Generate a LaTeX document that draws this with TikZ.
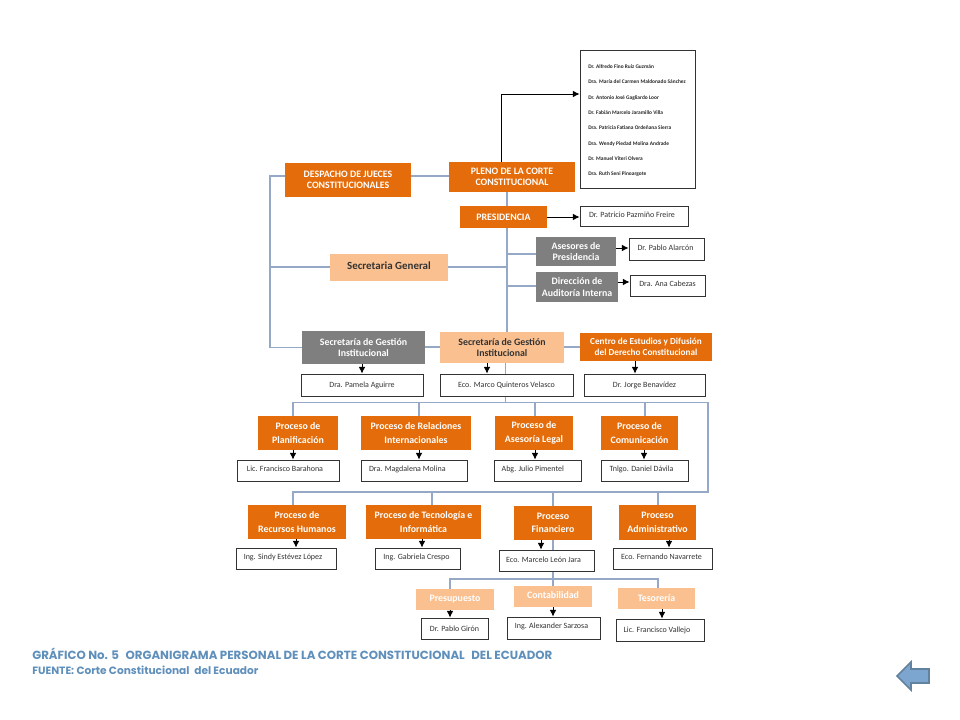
\documentclass[tikz,border=0pt]{standalone}
\usepackage{fontspec}
\setmainfont{Carlito}
\newfontfamily\capfont{Poppins}
\usetikzlibrary{arrows.meta,backgrounds}
\definecolor{orangebox}{HTML}{E46C0A}
\definecolor{peachbox}{HTML}{FAC090}
\definecolor{graybox}{HTML}{7F7F7F}
\definecolor{linkblue}{HTML}{95A9C6}
\definecolor{capblue}{HTML}{5F8FBB}
\definecolor{backfill}{HTML}{7CA6CF}
\definecolor{backline}{HTML}{63829E}
\tikzset{
  boxbase/.style={inner sep=0pt,align=center,font=\fontsize{7.4pt}{8.5pt}\selectfont\bfseries},
  tallnode/.style={font=\fontsize{7.4pt}{10pt}\selectfont\bfseries},
  orangenode/.style={boxbase,fill=orangebox,text=white},
  graynode/.style={boxbase,fill=graybox,text=white},
  peachnode/.style={boxbase,fill=peachbox,text=black!80},
  peachlight/.style={boxbase,fill=peachbox,text=white},
  person/.style={draw=black!80,line width=0.6pt,fill=white,inner sep=0pt,align=center,text=black!80,font=\fontsize{6pt}{8pt}\selectfont},
  namelabel/.style={anchor=west,inner sep=0pt,text=black!85,font=\fontsize{4.05pt}{4.5pt}\selectfont\bfseries},
  caplabel/.style={anchor=west,inner sep=0pt,text=capblue},
  link/.style={draw=linkblue,line width=0.85pt},
  arr/.style={draw=black,line width=0.7pt,-{Latex[length=5pt,width=5pt]}},
}
\newcommand{\bx}[7]{\node[#1,minimum width={(#5-#3)*0.75pt},minimum height={(#6-#4)*0.75pt}] (#2) at ({(#3+#5)/2},{(#4+#6)/2}) {#7};}
\begin{document}
\begin{tikzpicture}[x=0.75pt,y=-0.75pt]
\useasboundingbox (0,0) rectangle (960,720);
% list box
\bx{person}{jueces}{580}{50}{695}{188}{}
\node[namelabel] (j1) at (588,67) {Dr. Alfredo Fino Ruiz Guzmán};
\node[namelabel] (j2) at (588,82) {Dra. María del Carmen Maldonado Sánchez};
\node[namelabel] (j3) at (588,98) {Dr. Antonio José Gagliardo Loor};
\node[namelabel] (j4) at (588,113) {Dr. Fabián Marcelo Jaramillo Villa};
\node[namelabel] (j5) at (588,128) {Dra. Patricia Fatiana Ordeñana Sierra};
\node[namelabel] (j6) at (588,144) {Dra. Wendy Piedad Molina Andrade};
\node[namelabel] (j7) at (588,159) {Dr. Manuel Viteri Olvera};
\node[namelabel] (j8) at (588,174) {Dra. Ruth Seni Pinoargote};
% top
\bx{orangenode}{desp}{285}{163}{411}{197}{DESPACHO DE JUECES\\CONSTITUCIONALES}
\bx{orangenode}{pleno}{449}{162}{575}{192}{PLENO DE LA CORTE\\CONSTITUCIONAL}
\bx{orangenode}{pres}{460}{206}{547}{228}{PRESIDENCIA}
\bx{person}{ppres}{580}{206}{688}{226}{\raisebox{2pt}{Dr. Patricio Pazmiño Freire\kern3pt}}
\bx{graynode}{ases}{536}{237}{616}{266}{Asesores de\\Presidencia}
\bx{person}{pases}{629}{238}{704}{260}{\raisebox{2pt}{Dr. Pablo Alarcón\kern1.5pt}}
\bx{graynode}{audi}{536}{272}{618}{302}{Dirección de\\Auditoría Interna}
\bx{person}{paudi}{630}{275}{705}{296}{\raisebox{2pt}{Dra. Ana Cabezas}}
\bx{peachnode}{secg}{330}{254}{448}{281}{\fontsize{8.2pt}{9pt}\selectfont\raisebox{3pt}{Secretaria General}}
\bx{graynode}{sgi}{302}{331}{425}{364}{Secretaría de Gestión\\Institucional}
\bx{peachnode}{sgp}{440}{332}{564}{363}{Secretaría de Gestión\\Institucional}
\bx{orangenode}{cent}{580}{333}{712}{361}{\fontsize{6.9pt}{8.5pt}\selectfont Centro de Estudios y Difusión\\\fontsize{6.9pt}{8.5pt}\selectfont del Derecho Constitucional}
\bx{person}{psgi}{301}{374}{423}{396}{\raisebox{1pt}{Dra. Pamela Aguirre}}
\bx{person}{psgp}{440}{374}{573}{396}{\raisebox{1pt}{Eco. Marco Quinteros Velasco}}
\bx{person}{pcent}{584}{374}{705}{396}{\raisebox{1pt}{Dr. Jorge Benavídez}}
% row 1
\bx{orangenode,tallnode}{plan}{258}{416}{338}{450}{Proceso de\\Planificación}
\bx{orangenode,tallnode}{rel}{361}{416}{471}{450}{Proceso de Relaciones\\Internacionales}
\bx{orangenode,tallnode}{ase}{495}{416}{573}{450}{Proceso de\\Asesoría Legal}
\bx{orangenode,tallnode}{com}{601}{416}{678}{450}{Proceso de\\Comunicación}
\bx{person}{pplan}{237}{460}{339}{481}{\raisebox{2pt}{Lic. Francisco Barahona\kern4.5pt}}
\bx{person}{prel}{361}{460}{467}{481}{\raisebox{2pt}{Dra. Magdalena Molina\kern10pt}}
\bx{person}{pase}{494}{460}{581}{481}{\raisebox{2pt}{Abg. Julio Pimentel\kern7pt}}
\bx{person}{pcom}{601}{460}{688}{481}{\raisebox{2pt}{Tnlgo. Daniel Dávila\kern4.5pt}}
% row 2
\bx{orangenode,tallnode}{rh}{248}{505}{346}{539}{Proceso de\\Recursos Humanos}
\bx{orangenode,tallnode}{ti}{366}{505}{481}{539}{Proceso de Tecnología e\\Informática}
\bx{orangenode,tallnode}{fin}{514}{506}{592}{540}{Proceso\\Financiero}
\bx{orangenode,tallnode}{adm}{619}{505}{696}{540}{Proceso\\Administrativo}
\bx{person}{prh}{236}{548}{336}{569}{\raisebox{2pt}{Ing. Sindy Estévez López\kern4.5pt}}
\bx{person}{pti}{375}{548}{460}{569}{\raisebox{2pt}{Ing. Gabriela Crespo\kern1.5pt}}
\bx{person}{pfin}{499}{550}{594}{571}{\raisebox{1pt}{Eco. Marcelo León Jara\kern4.5pt}}
\bx{person}{padm}{613}{548}{712}{569}{\raisebox{2pt}{Eco. Fernando Navarrete\kern1.5pt}}
% row 3
\bx{peachlight}{pre}{416}{589}{494}{610}{Presupuesto}
\bx{peachlight}{con}{514}{586}{592}{607}{\raisebox{2pt}{Contabilidad}}
\bx{peachlight}{tes}{618}{588}{695}{609}{Tesorería}
\bx{person}{ppre}{421}{618}{488}{639}{Dr. Pablo Girón}
\bx{person}{pcon}{507}{617}{600}{639}{\raisebox{3pt}{Ing. Alexander Sarzosa\kern3pt}}
\bx{person}{ptes}{616}{619}{704}{641}{Lic. Francisco Vallejo\kern4.5pt}
% caption
\node[caplabel,font=\capfont\fontsize{8.85pt}{10pt}\selectfont\bfseries] (cap1) at (32,654) {GRÁFICO No. 5\hspace{3pt} ORGANIGRAMA PERSONAL DE LA CORTE CONSTITUCIONAL\hspace{3pt} DEL ECUADOR};
\node[caplabel,font=\capfont\fontsize{7.95pt}{10pt}\selectfont\bfseries] (cap2) at (32,670) {FUENTE: Corte Constitucional\hspace{2pt} del Ecuador};
% back arrow
\draw[draw=backline,fill=backfill,line width=1.3pt,line join=miter]
  (897,676) -- (911,662) -- (911,669) -- (929,669) -- (929,683) -- (911,683) -- (911,690) -- cycle;
% bus coordinates
\coordinate (leftmid) at (270,267);
\coordinate (trunkmid) at (507,267);
\coordinate (busone) at (505.5,402.5);
\coordinate (busoneL) at (293,402.5);
\coordinate (busoneR) at (708,402.5);
\coordinate (bustwoR) at (708,492);
\coordinate (bustwoL) at (293,492);
\coordinate (busthree) at (553,579);
\coordinate (busthreeL) at (450,579);
\coordinate (busthreeR) at (658,579);
\coordinate (listbend) at (501,94);
\begin{scope}[on background layer]
\draw[link] (desp.east |- 0,176) -- (pleno.west |- 0,176);
\draw[link] (desp.west |- 0,176) -| (270,0 |- sgi.west) -- (sgi.west);
\draw[link] (secg.west |- leftmid) -- (leftmid);
\draw[link] (secg.east |- trunkmid) -- (trunkmid);
\draw[link] (507,0 |- pleno.south) -- (507,0 |- sgp.north);
\draw[link] (507,254) -- (ases.west |- 0,254);
\draw[link] (507,286) -- (audi.west |- 0,286);
\draw[link] (sgi.east |- 0,347) -- (sgp.west |- 0,347);
\draw[link] (sgp.east |- 0,347) -- (cent.west |- 0,347);
\draw[link] (505.5,0 |- sgp.south) -- (busone);
\draw[link] (plan.north -| busoneL) -- (busoneL) -- (busoneR) -- (bustwoR) -- (bustwoL) -- (rh.north -| bustwoL);
\draw[link] (419,402.5) -- (419,0 |- rel.north);
\draw[link] (535,402.5) -- (535,0 |- ase.north);
\draw[link] (645,402.5) -- (645,0 |- com.north);
\draw[link] (432,492) -- (432,0 |- ti.north);
\draw[link] (553,492) -- (553,0 |- fin.north);
\draw[link] (658,492) -- (658,0 |- adm.north);
\draw[link] (553,0 |- fin.south) -- (busthree);
\draw[link] (pre.north -| busthreeL) -- (busthreeL) -- (busthreeR) -- (tes.north -| busthreeR);
\draw[link] (busthree) -- (553,0 |- con.north);
\end{scope}
% black connectors
\draw[draw=black,line width=0.7pt] (501,0 |- pleno.north) -- (listbend);
\draw[arr] (listbend) -- (jueces.west |- listbend);
\draw[arr] (pres.east) -- (ppres.west |- pres.east);
\draw[arr] (ases.east |- 0,248) -- (pases.west |- 0,248);
\draw[arr] (audi.east |- 0,282) -- (paudi.west |- 0,282);
\draw[arr] (362,0 |- sgi.south) -- (362,0 |- psgi.north);
\draw[arr] (487,0 |- sgp.south) -- (487,0 |- psgp.north);
\draw[arr] (635,0 |- cent.south) -- (635,0 |- pcent.north);
\draw[arr] (293,0 |- plan.south) -- (293,0 |- pplan.north);
\draw[arr] (419,0 |- rel.south) -- (419,0 |- prel.north);
\draw[arr] (535,0 |- ase.south) -- (535,0 |- pase.north);
\draw[arr] (644,0 |- com.south) -- (644,0 |- pcom.north);
\draw[arr] (296,0 |- rh.south) -- (296,0 |- prh.north);
\draw[arr] (422,0 |- ti.south) -- (422,0 |- pti.north);
\draw[arr] (541,0 |- fin.south) -- (541,0 |- pfin.north);
\draw[arr] (669,0 |- adm.south) -- (669,0 |- padm.north);
\draw[arr] (450,0 |- pre.south) -- (450,0 |- ppre.north);
\draw[arr] (553,0 |- con.south) -- (553,0 |- pcon.north);
\draw[arr] (662,0 |- tes.south) -- (662,0 |- ptes.north);
\end{tikzpicture}
\end{document}
